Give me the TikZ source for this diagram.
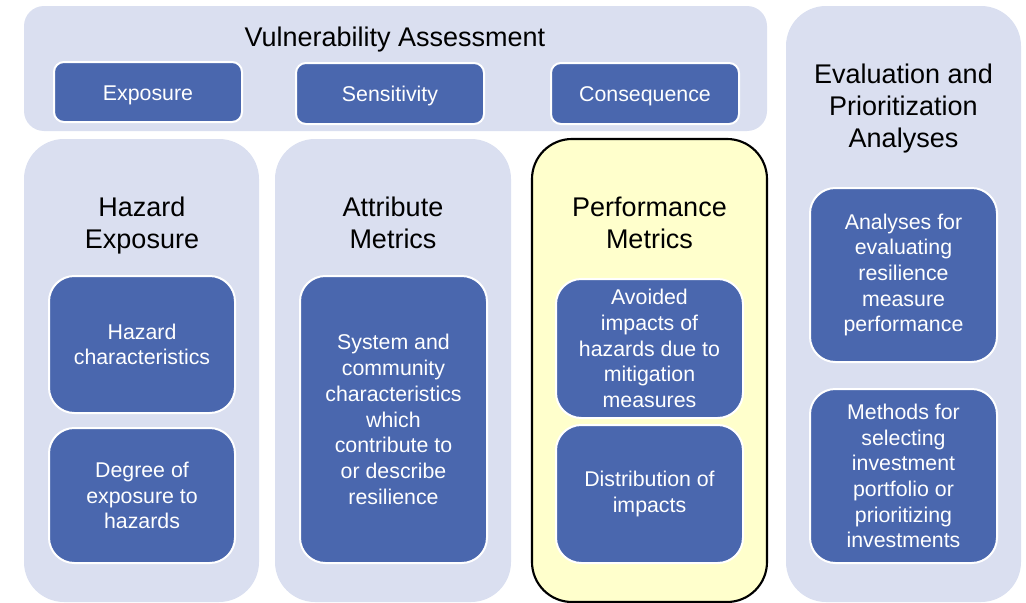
\documentclass[tikz,border=0pt]{standalone}
\usepackage{fontspec}
\setmainfont{Liberation Sans}
\usetikzlibrary{fit}
\definecolor{panelbg}{RGB}{218,223,240}
\definecolor{boxbg}{RGB}{74,103,174}
\definecolor{yel}{RGB}{255,255,204}
\tikzset{
  panel/.style={rectangle, fill=panelbg, draw=none, inner sep=0pt, outer sep=0pt, rounded corners=30pt},
  toppanel/.style={panel, rounded corners=15pt},
  perfpanel/.style={panel, fill=yel, draw=black, line width=1.6pt},
  topbox/.style={rectangle, fill=boxbg, draw=white, line width=1.5pt, inner sep=0pt, outer sep=0pt,
    rounded corners=7.5pt},
  innerbox/.style={topbox, rounded corners=19pt},
  boxtext/.style={text=white, align=center, font=\fontsize{16}{19.3}\selectfont},
  toptext/.style={boxtext, yshift=-2.2pt},
  title/.style={text=black, font=\fontsize{20.25}{24}\selectfont, align=center, inner sep=0pt, yshift=-2.2pt}
}
\begin{document}
\begin{tikzpicture}[x=0.75pt,y=-0.75pt]
\useasboundingbox (0,0) rectangle (1026,603);
% panels
\node[toppanel, fit={(24,6) (767,131)}] (vul) {};
\node[panel, fit={(24,139) (259,602)}] (haz) {};
\node[panel, fit={(275,139) (511,602)}] (att) {};
\node[perfpanel, fit={(532,139) (767,602)}] (perf) {};
\node[panel, fit={(786,6) (1021,602)}] (eva) {};
% titles
\node[title] (vult) at (395,37) {Vulnerability Assessment};
\node[title] (hazt) at (142,223) {Hazard\\Exposure};
\node[title] (attt) at (393,220) {Attribute\\Metrics};
\node[title] (perft) at (649.5,220) {Performance\\Metrics};
\node[title] (evat) at (903.5,106) {Evaluation and\\Prioritization\\Analyses};
% top boxes
\node[topbox, fit={(54,62) (242,122)}] (expo) {};
\node[toptext] (expot) at (expo.center) {Exposure};
\node[topbox, fit={(296,63) (484,124)}] (sens) {};
\node[toptext] (senst) at (sens.center) {Sensitivity};
\node[topbox, fit={(551,63) (739,124)}] (cons) {};
\node[toptext] (const) at (cons.center) {Consequence};
% inner boxes
\node[innerbox, fit={(49,276) (235,413)}] (hc) {};
\node[boxtext] (hct) at (hc.center) {Hazard\\characteristics};
\node[innerbox, fit={(49,428) (235,563)}] (de) {};
\node[boxtext] (det) at (de.center) {Degree of\\exposure to\\hazards};
\node[innerbox, fit={(300,276) (487,563)}] (sc) {};
\node[boxtext] (sct) at (sc.center) {System and\\community\\characteristics\\which\\contribute to\\or describe\\resilience};
\node[innerbox, fit={(556,279) (743,418)}] (av) {};
\node[boxtext] (avt) at (av.center) {Avoided\\impacts of\\hazards due to\\mitigation\\measures};
\node[innerbox, fit={(556,425) (743,563)}] (di) {};
\node[boxtext] (dit) at (di.center) {Distribution of\\impacts};
\node[innerbox, fit={(810,188) (997,362)}] (an) {};
\node[boxtext] (ant) at (an.center) {Analyses for\\evaluating\\resilience\\measure\\performance};
\node[innerbox, fit={(810,389) (997,563)}] (me) {};
\node[boxtext] (met) at (me.center) {Methods for\\selecting\\investment\\portfolio or\\prioritizing\\investments};
\end{tikzpicture}
\end{document}
